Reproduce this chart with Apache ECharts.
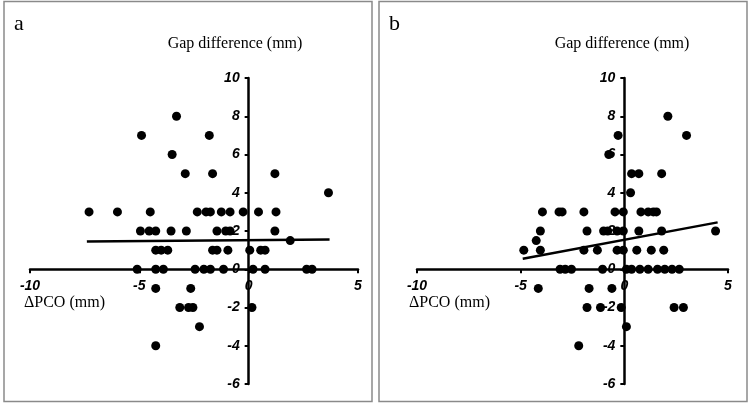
<!DOCTYPE html>
<html>
<head>
<meta charset="utf-8">
<script src="https://cdn.jsdelivr.net/npm/echarts@6/dist/echarts.min.js"></script>
<style>
  html, body { margin: 0; padding: 0; background: #fff; }
  #chart { width: 750px; height: 403px; }
</style>
</head>
<body>
<div id="chart"></div>
<script>
  'use strict'

  // axis ticks
  var xTicks = [-10, -5, 0, 5];
  var yTicks = [-6, -4, -2, 0, 2, 4, 6, 8, 10];

  // panel a: [ΔPCO, gap difference]
  var pointsA = [
    [-3.3, 8],
    [-4.9, 7], [-1.8, 7],
    [-3.5, 6],
    [-2.9, 5], [-1.65, 5], [1.2, 5],
    [3.65, 4],
    [-7.3, 3], [-6.0, 3], [-4.5, 3], [-2.35, 3], [-1.95, 3], [-1.75, 3], [-1.25, 3], [-0.85, 3], [-0.25, 3], [0.45, 3], [1.25, 3],
    [-4.95, 2], [-4.55, 2], [-4.25, 2], [-3.55, 2], [-2.85, 2], [-1.45, 2], [-1.05, 2], [-0.85, 2], [1.2, 2],
    [1.9, 1.5],
    [-4.25, 1], [-4.0, 1], [-3.7, 1], [-1.65, 1], [-1.45, 1], [-0.95, 1], [0.05, 1], [0.55, 1], [0.75, 1],
    [-5.1, 0], [-4.25, 0], [-3.9, 0], [-2.45, 0], [-2.05, 0], [-1.75, 0], [-1.15, 0], [0.2, 0], [0.75, 0], [2.65, 0], [2.9, 0],
    [-4.25, -1], [-2.65, -1],
    [-3.15, -2], [-2.75, -2], [-2.55, -2], [0.15, -2],
    [-2.25, -3],
    [-4.25, -4]
  ];
  var trendA = [[-7.4, 1.45], [3.7, 1.55]];

  // panel b
  var pointsB = [
    [2.1, 8],
    [-0.3, 7], [3.0, 7],
    [-0.75, 6],
    [0.35, 5], [0.7, 5], [1.8, 5],
    [0.3, 4],
    [-3.95, 3], [-3.15, 3], [-3.0, 3], [-1.95, 3], [-0.45, 3], [-0.05, 3], [0.8, 3], [1.15, 3], [1.4, 3], [1.55, 3],
    [-4.05, 2], [-1.8, 2], [-1.0, 2], [-0.8, 2], [-0.35, 2], [-0.05, 2], [0.7, 2], [1.8, 2], [4.4, 2],
    [-4.25, 1.5],
    [-4.85, 1], [-4.05, 1], [-1.95, 1], [-1.3, 1], [-0.35, 1], [-0.05, 1], [0.6, 1], [1.3, 1], [1.9, 1],
    [-3.1, 0], [-2.85, 0], [-2.55, 0], [-1.05, 0], [0.1, 0], [0.35, 0], [0.75, 0], [1.15, 0], [1.6, 0], [1.95, 0], [2.3, 0], [2.65, 0],
    [-4.15, -1], [-1.7, -1], [-0.6, -1],
    [-1.8, -2], [-1.15, -2], [-0.15, -2], [2.4, -2], [2.85, -2],
    [0.1, -3],
    [-2.2, -4]
  ];
  var trendB = [[-4.9, 0.55], [4.5, 2.45]];

  var grids = [
    { left: 30, top: 78, width: 328, height: 306 },
    { left: 417, top: 78, width: 311, height: 306 }
  ];

  var xMin = xTicks[0], xMax = xTicks[xTicks.length - 1];
  var yMin = yTicks[0], yMax = yTicks[yTicks.length - 1];

  var tickFont = {
    fontFamily: 'Liberation Sans',
    fontSize: 14,
    fontWeight: 'bold',
    fontStyle: 'italic',
    color: '#000'
  };

  // axes cross at zero: shift them inward from the grid edge
  function xAxisFor(idx) {
    var g = grids[idx];
    var zeroFromBottom = (0 - yMin) / (yMax - yMin) * g.height;
    return {
      type: 'value',
      gridIndex: idx,
      min: xMin,
      max: xMax,
      interval: 5,
      position: 'bottom',
      offset: -zeroFromBottom,
      axisLine: { onZero: false, lineStyle: { color: '#000', width: 2.5 } },
      axisTick: { show: true, length: 4, lineStyle: { color: '#000', width: 2 } },
      axisLabel: Object.assign({ margin: 10 }, tickFont),
      splitLine: { show: false }
    };
  }

  function yAxisFor(idx) {
    var g = grids[idx];
    var zeroFromLeft = (0 - xMin) / (xMax - xMin) * g.width;
    return {
      type: 'value',
      gridIndex: idx,
      min: yMin,
      max: yMax,
      interval: 2,
      position: 'left',
      offset: -zeroFromLeft,
      axisLine: { onZero: false, lineStyle: { color: '#000', width: 2.5 } },
      axisTick: { show: true, length: 4, lineStyle: { color: '#000', width: 2 } },
      axisLabel: Object.assign({ margin: 9 }, tickFont),
      splitLine: { show: false }
    };
  }

  var serif = 'Liberation Serif';

  function panelText(x, y, text, size, align) {
    return {
      type: 'text',
      x: x,
      y: y,
      z: 10,
      style: {
        text: text,
        font: size + 'px "' + serif + '"',
        fill: '#000',
        align: align || 'left',
        verticalAlign: 'middle'
      }
    };
  }

  function trendSeries(idx, data) {
    return {
      type: 'line',
      xAxisIndex: idx, yAxisIndex: idx,
      data: data,
      symbol: 'none',
      lineStyle: { color: '#000', width: 2.5 },
      z: 3
    };
  }

  function dotSeries(idx, data) {
    return {
      type: 'scatter',
      xAxisIndex: idx, yAxisIndex: idx,
      data: data,
      symbolSize: 9,
      itemStyle: { color: '#000', opacity: 1 },
      z: 4
    };
  }

  var option = {
    animation: false,
    grid: grids,
    xAxis: [xAxisFor(0), xAxisFor(1)],
    yAxis: [yAxisFor(0), yAxisFor(1)],
    series: [
      trendSeries(0, trendA),
      dotSeries(0, pointsA),
      trendSeries(1, trendB),
      dotSeries(1, pointsB)
    ],
    graphic: [
      {
        type: 'rect',
        shape: { x: 4, y: 1.5, width: 368, height: 400 },
        style: { fill: 'none', stroke: '#8a8a8a', lineWidth: 1.5 }
      },
      {
        type: 'rect',
        shape: { x: 379, y: 1.5, width: 368, height: 400 },
        style: { fill: 'none', stroke: '#8a8a8a', lineWidth: 1.5 }
      },
      panelText(14, 24, 'a', 22),
      panelText(235, 44, 'Gap difference (mm)', 16, 'center'),
      panelText(24, 303, 'ΔPCO (mm)', 16),
      panelText(389, 24, 'b', 22),
      panelText(622, 44, 'Gap difference (mm)', 16, 'center'),
      panelText(409, 303, 'ΔPCO (mm)', 16)
    ]
  };

  var chart = echarts.init(document.getElementById('chart'));
  chart.setOption(option);
</script>
</body>
</html>
